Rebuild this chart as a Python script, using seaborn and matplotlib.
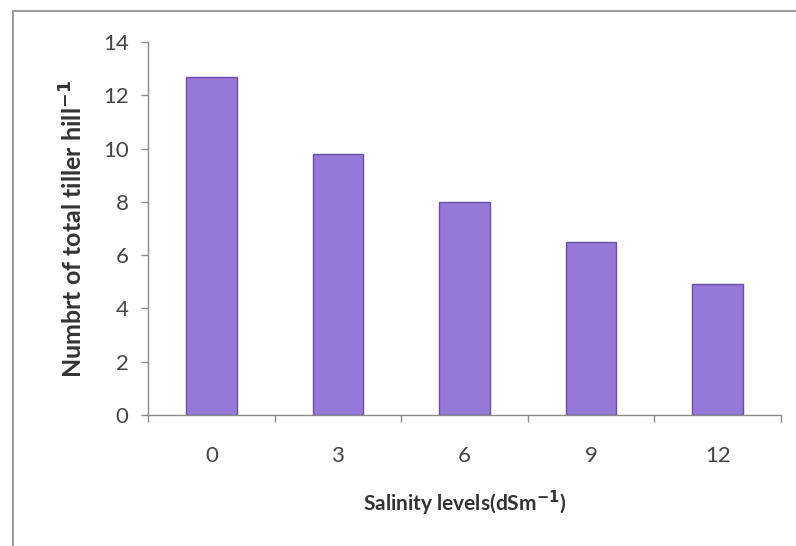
import matplotlib
matplotlib.use("Agg")
import matplotlib.pyplot as plt
import matplotlib.patches as mpatches
from matplotlib.ticker import FixedLocator, NullFormatter, FixedFormatter
import seaborn as sns
import pandas as pd

# Tiller counts per salinity level
salinity_levels = ["0", "3", "6", "9", "12"]
tiller_counts = [12.7, 9.8, 8.0, 6.5, 4.9]
y_ticks = [0, 2, 4, 6, 8, 10, 12, 14]

df = pd.DataFrame({"salinity": salinity_levels, "tillers": tiller_counts})

sns.set_theme(style="white")
plt.rcParams["font.family"] = ["Lato", "DejaVu Sans"]

fig = plt.figure(figsize=(7.96, 5.46), dpi=100)
ax = fig.add_axes([0.186, 0.240, 0.795, 0.683])

sns.barplot(data=df, x="salinity", y="tillers", order=salinity_levels,
            color="#9678d8", saturation=1, width=0.4,
            edgecolor="#6a50a4", linewidth=1.0, ax=ax)

ax.set_xlim(-0.5, len(salinity_levels) - 0.5)
ax.set_ylim(0, 14)
ax.set_yticks(y_ticks)
ax.set_yticklabels([str(t) for t in y_ticks], fontsize=16, color="#444444")

# category boundaries carry the tick marks, labels sit between them
ax.xaxis.set_major_locator(FixedLocator([i - 0.5 for i in range(len(salinity_levels) + 1)]))
ax.xaxis.set_major_formatter(NullFormatter())
ax.xaxis.set_minor_locator(FixedLocator(list(range(len(salinity_levels)))))
ax.xaxis.set_minor_formatter(FixedFormatter(salinity_levels))
ax.tick_params(axis="x", which="major", length=5, width=1, color="#8a8a8a", direction="out", bottom=True)
ax.tick_params(axis="x", which="minor", length=0, labelsize=16, labelcolor="#444444", pad=22)
ax.tick_params(axis="y", length=5, width=1, color="#8a8a8a", direction="out", left=True, pad=9)

for side in ("top", "right"):
    ax.spines[side].set_visible(False)
for side in ("left", "bottom"):
    ax.spines[side].set_color("#8a8a8a")
    ax.spines[side].set_linewidth(1.0)

ax.set_xlabel(r"Salinity levels(dSm$^{\mathbf{-1}}$)", fontsize=15, fontweight="bold",
              color="#333333", labelpad=17)
ax.set_ylabel(r"Numbrt of total tiller hill$^{\mathbf{-1}}$", fontsize=18, fontweight="bold",
              color="#333333", labelpad=12)

# chart frame (runs past the right and bottom edges of the canvas)
fig.patches.append(mpatches.Rectangle((0.016, -0.1), 1.2, 1.08, transform=fig.transFigure,
                                      fill=False, edgecolor="#9a9a9a", linewidth=1.4))

fig.savefig("out.png", dpi=100, facecolor="white")
